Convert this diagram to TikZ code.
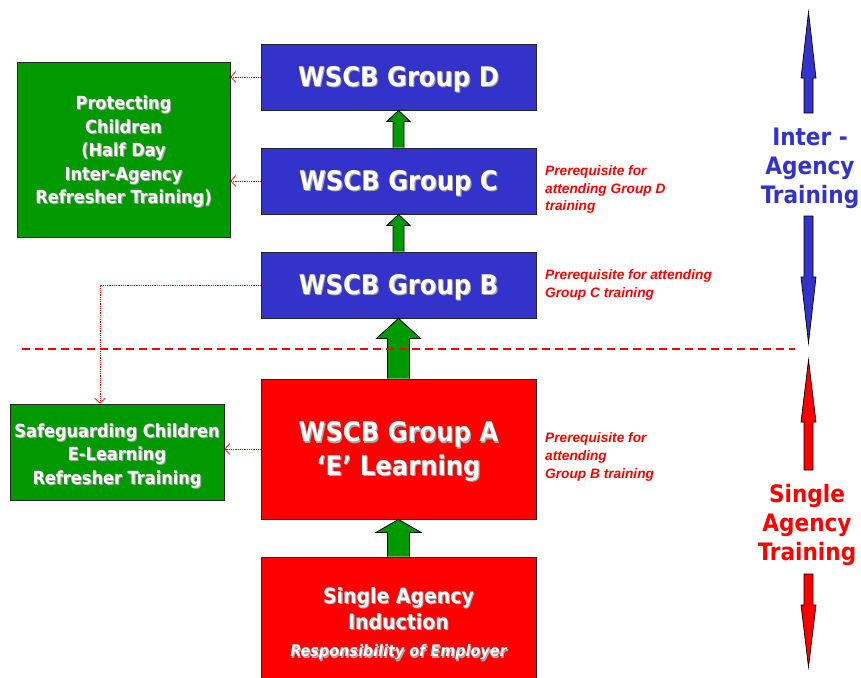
\documentclass[tikz,border=0pt]{standalone}
\usepackage{fontspec}
\setmainfont{DejaVu Sans Condensed}
\newfontfamily\arialf{Liberation Sans}
\usetikzlibrary{arrows.meta,calc}
\definecolor{wblue}{HTML}{3333CC}
\definecolor{wgreen}{HTML}{009900}
\definecolor{wred}{HTML}{FF0000}
\newcommand\shd[1]{\makebox[0pt][l]{\hspace{1.1pt}\raisebox{-1.1pt}{\textcolor{black!35}{#1}}}#1}
\newcommand\tx[2]{\raisebox{-#1}[\height][\depth]{\begin{tabular}{@{}c@{}}#2\end{tabular}}}
\tikzset{
  box/.style={draw=black!85, line width=0.8pt, text=white, font=\bfseries, align=center, inner sep=0pt},
  bluebox/.style={box, fill=wblue, minimum width=275pt, minimum height=66pt, font=\bfseries\fontsize{27}{32}\selectfont},
  redbox/.style={box, fill=wred, minimum width=275pt},
  greenbox/.style={box, fill=wgreen, font=\bfseries\fontsize{18}{23.5}\selectfont},
  garrow/.style={draw=black, line width=0.8pt, fill=wgreen},
  dotarr/.style={draw=wred, densely dotted, line width=0.8pt, -{Straight Barb[length=5pt,width=11pt,line width=0.7pt]}},
  prereq/.style={text=wred, font=\arialf\bfseries\itshape\fontsize{13.7}{17.6}\selectfont, align=left, anchor=west, inner sep=0pt},
  sidelabel/.style={font=\bfseries\fontsize{24}{29}\selectfont, align=center, inner sep=0pt},
  sidearrow/.style={draw=black, line width=0.7pt},
}
\begin{document}
\begin{tikzpicture}[x=1pt,y=-1pt]
\useasboundingbox (0,0) rectangle (861,677);

% main boxes
\node[bluebox] (d) at (398.5,77) {\tx{3pt}{\shd{WSCB Group D}}};
\node[bluebox] (c) at (398.5,181) {\tx{3pt}{\shd{WSCB Group C}}};
\node[bluebox] (b) at (398.5,285) {\tx{3pt}{\shd{WSCB Group B}}};
\node[redbox, minimum height=140pt, font=\bfseries\fontsize{27}{33.4}\selectfont] (a) at (398.5,449)
  {\tx{3pt}{\shd{WSCB Group A}\\\shd{`E' Learning}}};
\node[redbox, minimum height=126pt, font=\bfseries\fontsize{21}{26}\selectfont] (ind) at (398.5,620)
  {\tx{5pt}{\shd{Single Agency}\\\shd{Induction}\\[1.5pt]{\fontsize{16}{24}\selectfont\itshape\shd{Responsibility of Employer}}}};

% green boxes
\node[greenbox, minimum width=213pt, minimum height=175pt] (pc) at (123.5,149.5)
  {\tx{2.5pt}{\shd{Protecting}\\\shd{Children}\\\shd{(Half Day}\\\shd{Inter-Agency}\\\shd{Refresher Training)}}};
\node[greenbox, minimum width=214pt, minimum height=96pt] (sg) at (117,452)
  {\tx{4pt}{\shd{Safeguarding Children}\\\shd{E-Learning}\\\shd{Refresher Training}}};

% green block arrows
\draw[garrow] ($(c.north)+(-5.5,0)$) -- ($(d.south)+(-5.5,11)$) -- ($(d.south)+(-11.5,11)$) -- (d.south)
  -- ($(d.south)+(11.5,11)$) -- ($(d.south)+(5.5,11)$) -- ($(c.north)+(5.5,0)$);
\draw[garrow] ($(b.north)+(-5.5,0)$) -- ($(c.south)+(-5.5,11)$) -- ($(c.south)+(-11.5,11)$) -- (c.south)
  -- ($(c.south)+(11.5,11)$) -- ($(c.south)+(5.5,11)$) -- ($(b.north)+(5.5,0)$);
\draw[garrow] ($(a.north)+(-11,0)$) -- ($(b.south)+(-11,20)$) -- ($(b.south)+(-22,20)$) -- (b.south)
  -- ($(b.south)+(22,20)$) -- ($(b.south)+(11,20)$) -- ($(a.north)+(11,0)$);
\draw[garrow] ($(ind.north)+(-11,0)$) -- ($(a.south)+(-11,13)$) -- ($(a.south)+(-22.5,13)$) -- (a.south)
  -- ($(a.south)+(22.5,13)$) -- ($(a.south)+(11,13)$) -- ($(ind.north)+(11,0)$);

% dashed divider
\coordinate (dl) at (22,349);
\coordinate (dr) at (795,349);
\draw[wred, line width=1.6pt, dash pattern=on 8pt off 5pt] (dl) -- (dr);

% dotted connectors
\draw[dotarr] (d.west) -- (d.west -| pc.east);
\draw[dotarr] (c.west) -- (c.west -| pc.east);
\draw[dotarr] (b.west) -| ([xshift=-17pt]sg.north);
\draw[dotarr] (a.west) -- (a.west -| sg.east);

% prerequisite labels
\node[prereq] (pd) at (545,189.5) {Prerequisite for\\attending Group D\\training};
\node[prereq] (pcl) at (545,285) {Prerequisite for attending\\Group C training};
\node[prereq] (pb) at (545,457) {Prerequisite for\\attending\\Group B training};

% side labels and arrows
\node[sidelabel, text=wblue] (ia) at (810,168) {Inter -\\Agency\\Training};
\node[sidelabel, text=wred] (sa) at (807,525) {Single\\Agency\\Training};

\draw[sidearrow, fill=wblue] (804,113) -- (804,78) -- (801,78) -- (808.5,12) -- (816,78) -- (813,78) -- (813,113) -- cycle;
\draw[sidearrow, fill=wblue] (804,216) -- (804,277) -- (801,277) -- (808.5,343) -- (816,277) -- (813,277) -- (813,216) -- cycle;
\draw[sidearrow, fill=wred] (804,470) -- (804,422) -- (801,422) -- (808.5,360) -- (816,422) -- (813,422) -- (813,470) -- cycle;
\draw[sidearrow, fill=wred] (804,574) -- (804,605) -- (801,605) -- (808.5,667) -- (816,605) -- (813,605) -- (813,574) -- cycle;
\end{tikzpicture}
\end{document}
